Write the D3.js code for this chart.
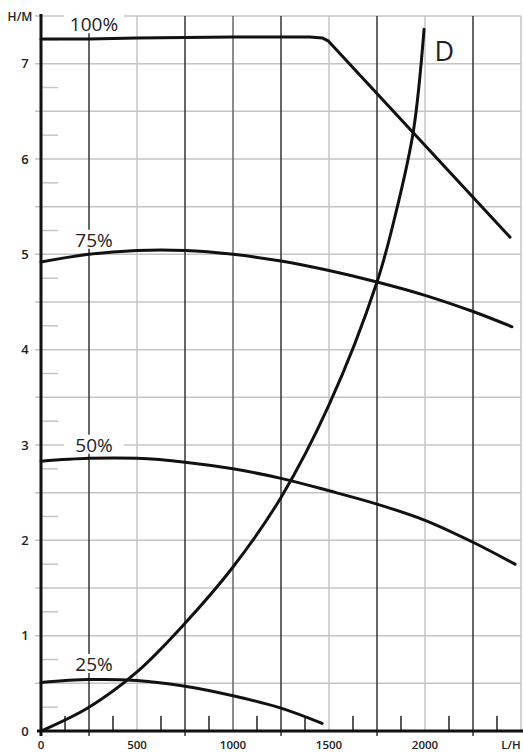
<!DOCTYPE html>
<html>
<head>
<meta charset="utf-8">
<script src="https://cdn.jsdelivr.net/npm/d3@7"></script>
<style>
    body { margin: 0; background: #fff; }
    text { font-family: "Open Sans", sans-serif; fill: #222; }
</style>
</head>
<body>
<div id="chart"></div>
<script>
// flow (L/H) vs head (H/M)
var curve100 = [[0, 7.26], [250, 7.26], [500, 7.27], [1000, 7.28], [1400, 7.28], [1465, 7.27], [1495, 7.24], [2443, 5.18]];
var curve75 = [[0, 4.92], [250, 5.0], [500, 5.04], [750, 5.04], [1000, 5.0], [1250, 4.93], [1500, 4.83], [1750, 4.71], [2000, 4.57], [2250, 4.4], [2453, 4.24]];
var curve50 = [[0, 2.83], [250, 2.86], [500, 2.86], [750, 2.82], [1000, 2.75], [1250, 2.65], [1500, 2.52], [1750, 2.38], [2000, 2.21], [2250, 1.98], [2469, 1.75]];
var curve25 = [[0, 0.51], [250, 0.54], [500, 0.53], [750, 0.47], [1000, 0.37], [1250, 0.24], [1464, 0.08]];
var curveD = [[0, 0], [250, 0.25], [500, 0.62], [750, 1.13], [1000, 1.72], [1250, 2.45], [1500, 3.42], [1750, 4.71], [1850, 5.45], [1940, 6.3], [1995, 7.36]];

var xTicks = [0, 500, 1000, 1500, 2000];
var yTicks = [0, 1, 2, 3, 4, 5, 6, 7];
var curveLabels = [
    { text: "100%", x: 276, y: 7.34 },
    { text: "75%", x: 276, y: 5.08 },
    { text: "50%", x: 276, y: 2.93 },
    { text: "25%", x: 276, y: 0.63 },
];

var width = 523, height = 754;

var svg = d3
    .select("#chart")
    .append("svg")
    .attr("width", width)
    .attr("height", height);

var x = d3.scaleLinear().domain([0, 2500]).range([41, 521]);
var y = d3.scaleLinear().domain([0, 7.5]).range([731, 16]);

// horizontal grid every 0.5
svg.append("g")
    .selectAll("line")
    .data(d3.range(0.5, 7.51, 0.5))
    .enter()
    .append("line")
    .attr("x1", x(0) - 6)
    .attr("x2", x(2500))
    .attr("y1", (d) => y(d))
    .attr("y2", (d) => y(d))
    .attr("stroke", "#c4c4c4")
    .attr("stroke-width", 1.5);

// minor y ticks
svg.append("g")
    .selectAll("line")
    .data(d3.range(0.25, 7.5, 0.5))
    .enter()
    .append("line")
    .attr("x1", x(0))
    .attr("x2", x(0) + 17)
    .attr("y1", (d) => y(d))
    .attr("y2", (d) => y(d))
    .attr("stroke", "#c4c4c4")
    .attr("stroke-width", 1.5);

// vertical grid every 250, odd ones dark
svg.append("g")
    .selectAll("line")
    .data(d3.range(250, 2501, 250))
    .enter()
    .append("line")
    .attr("x1", (d) => x(d))
    .attr("x2", (d) => x(d))
    .attr("y1", y(7.5))
    .attr("y2", (d) => (d % 500 ? y(0) + 5 : y(0)))
    .attr("stroke", (d) => (d % 500 ? "#333" : d == 1000 ? "#666" : "#c4c4c4"))
    .attr("stroke-width", 1.5);

// minor x ticks
svg.append("g")
    .selectAll("line")
    .data(d3.range(125, 2500, 250))
    .enter()
    .append("line")
    .attr("x1", (d) => x(d))
    .attr("x2", (d) => x(d))
    .attr("y1", y(0) - 15)
    .attr("y2", y(0))
    .attr("stroke", "#222")
    .attr("stroke-width", 1.5);

// axes
svg.append("line")
    .attr("x1", x(0)).attr("x2", x(0))
    .attr("y1", y(7.5) - 2).attr("y2", y(0) + 5)
    .attr("stroke", "#111").attr("stroke-width", 3);
svg.append("line")
    .attr("x1", x(0) - 4).attr("x2", x(2500) + 2)
    .attr("y1", y(0)).attr("y2", y(0))
    .attr("stroke", "#111").attr("stroke-width", 3);

svg.append("g")
    .selectAll("text")
    .data(yTicks)
    .enter()
    .append("text")
    .attr("x", 25)
    .attr("y", (d) => y(d))
    .attr("dy", "0.36em")
    .attr("text-anchor", "middle")
    .style("font-size", "13px")
    .style("font-weight", 600)
    .text((d) => d);

svg.append("g")
    .selectAll("text")
    .data(xTicks)
    .enter()
    .append("text")
    .attr("x", (d) => x(d))
    .attr("y", 749)
    .attr("text-anchor", "middle")
    .style("font-size", "11.5px")
    .style("font-weight", 600)
    .text((d) => d);

svg.append("text")
    .attr("x", 20).attr("y", 21)
    .attr("text-anchor", "middle")
    .style("font-size", "12px").style("font-weight", 600)
    .text("H/M");
svg.append("text")
    .attr("x", 511).attr("y", 749)
    .attr("text-anchor", "middle")
    .style("font-size", "11.5px").style("font-weight", 600)
    .text("L/H");

// labels with white background over the grid
var labels = svg.append("g");
curveLabels.forEach((d) => {
    labels.append("rect")
        .attr("x", x(d.x) - 30)
        .attr("y", y(d.y) - 17)
        .attr("width", 60)
        .attr("height", 19)
        .attr("fill", "#fff");
    labels.append("text")
        .attr("x", x(d.x))
        .attr("y", y(d.y))
        .attr("text-anchor", "middle")
        .style("font-size", "19px")
        .text(d.text);
});

var line = d3.line().x((d) => x(d[0])).y((d) => y(d[1]));

[curve75, curve50, curve25].forEach((c) => {
    svg.append("path")
        .attr("fill", "none")
        .attr("stroke", "#111")
        .attr("stroke-width", 3)
        .attr("stroke-linecap", "round")
        .attr("d", line.curve(d3.curveCatmullRom)(c));
});

svg.append("path")
    .attr("fill", "none")
    .attr("stroke", "#111")
    .attr("stroke-width", 3)
    .attr("stroke-linecap", "round")
    .attr("d", line.curve(d3.curveLinear)(curve100));

svg.append("path")
    .attr("fill", "none")
    .attr("stroke", "#111")
    .attr("stroke-width", 3)
    .attr("stroke-linecap", "round")
    .attr("d", line.curve(d3.curveCatmullRom)(curveD));

svg.append("text")
    .attr("x", x(2100))
    .attr("y", y(7.03))
    .attr("text-anchor", "middle")
    .style("font-size", "27px")
    .text("D");
</script>
</body>
</html>
